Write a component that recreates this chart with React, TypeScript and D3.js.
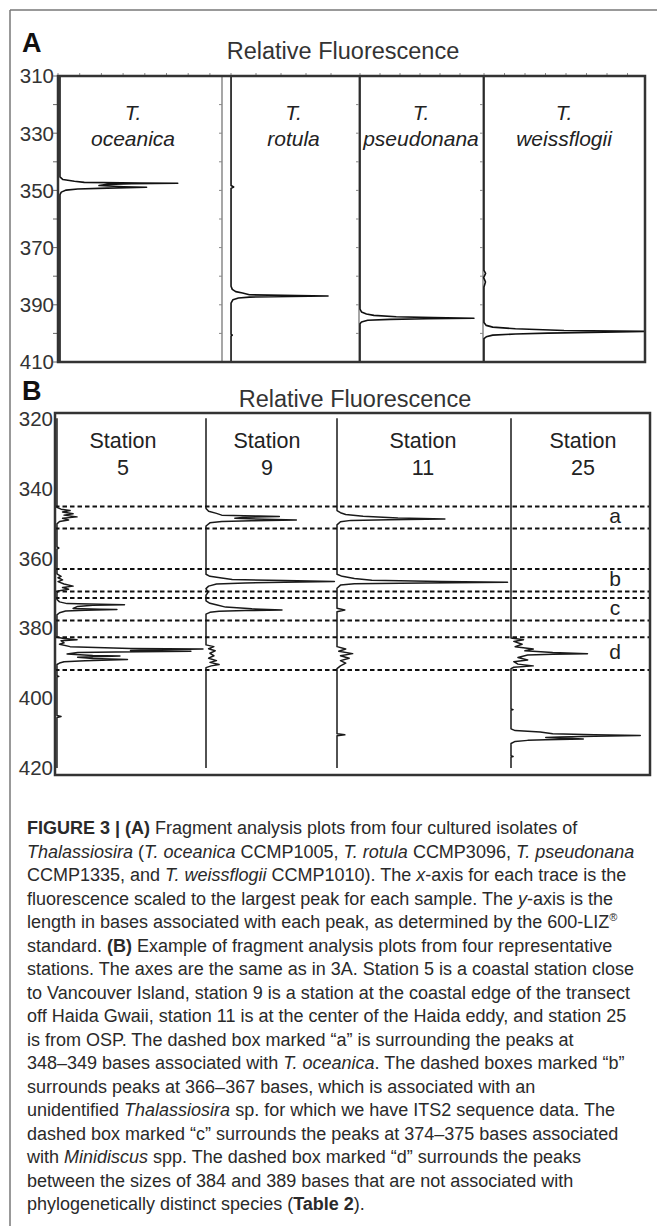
import * as d3 from 'd3';

// ---- data ----
const speciesA = ['oceanica', 'rotula', 'pseudonana', 'weissflogii'];
const stationsB = ['5', '9', '11', '25'];
const ticksA = [310, 330, 350, 370, 390, 410];
const ticksB = [320, 340, 360, 380, 400, 420];
const boxLabels = ['a', 'b', 'c', 'd'];
const boxBounds: [number, number][] = [
  [345.2, 351.5],
  [363.1, 369.5],
  [371.4, 377.8],
  [382.6, 392.0],
];

type Pt = [number, number]; // [bases, relative fluorescence]

// panel A traces
const trOceanica: Pt[] = [
  [310, 0.012], [345.3, 0.012], [346.2, 0.03], [346.8, 0.1], [347.2, 0.16], [347.4, 0.5], [347.5, 0.73],
  [347.7, 0.45], [347.9, 0.3], [348.3, 0.25], [348.7, 0.4], [348.9, 0.54], [349.2, 0.3], [349.5, 0.12],
  [349.9, 0.05], [350.6, 0.02], [351.5, 0.012], [410, 0.012],
];
const trRotula: Pt[] = [
  [310, 0.066], [348.3, 0.066], [348.8, 0.085], [349.3, 0.066], [383.5, 0.066], [384.6, 0.075],
  [385.4, 0.1], [385.9, 0.15], [386.5, 0.2], [386.8, 0.55], [386.9, 0.774], [387.1, 0.5], [387.3, 0.2],
  [387.6, 0.12], [388.2, 0.08], [389.4, 0.066], [400.3, 0.066], [400.6, 0.075], [400.9, 0.066], [410, 0.066],
];
const trPseudonana: Pt[] = [
  [310, 0.008], [391.5, 0.008], [392.5, 0.02], [393.2, 0.06], [393.7, 0.12], [394.2, 0.3], [394.5, 0.6],
  [394.7, 0.927], [394.9, 0.55], [395.1, 0.25], [395.4, 0.07], [396.0, 0.02], [396.6, 0.008], [410, 0.008],
];
const trWeissflogii: Pt[] = [
  [310, 0.006], [378, 0.006], [379, 0.016], [380.5, 0.004], [382, 0.015], [383.8, 0.006],
  [396.2, 0.006], [397.2, 0.02], [397.8, 0.06], [398.4, 0.2], [399.0, 0.5], [399.3, 1.0], [399.6, 0.75],
  [399.9, 0.4], [400.2, 0.2], [400.6, 0.06], [401.2, 0.02], [401.8, 0.006], [410, 0.006],
];

// panel B traces
const trStation5: Pt[] = [
  [320, 0.013], [345.5, 0.013], [346.0, 0.04], [346.4, 0.1], [346.8, 0.05], [347.3, 0.12],
  [347.7, 0.06], [348.2, 0.146], [348.6, 0.05], [349.1, 0.09], [349.5, 0.03], [350.2, 0.013],
  [356.8, 0.013], [357.1, 0.025], [357.4, 0.013],
  [364.5, 0.013], [365.2, 0.04], [365.6, 0.02], [366.2, 0.05], [366.7, 0.02], [367.4, 0.06],
  [368.0, 0.12], [368.4, 0.05], [368.9, 0.09], [369.4, 0.02], [370, 0.013],
  [371.8, 0.013], [372.5, 0.03], [373.0, 0.08], [373.2, 0.3], [373.3, 0.46], [373.5, 0.25], [373.8, 0.15],
  [374.4, 0.12], [374.6, 0.3], [374.7, 0.41], [374.9, 0.2], [375.1, 0.07], [375.6, 0.03], [376.2, 0.013],
  [382.6, 0.013], [383.0, 0.06], [383.3, 0.146], [383.6, 0.04], [384.2, 0.06], [384.6, 0.03],
  [385.3, 0.1], [385.8, 0.5], [386.0, 0.98], [386.2, 0.7], [386.4, 0.5], [386.6, 0.9], [386.8, 0.4],
  [387.0, 0.15], [387.4, 0.08], [387.8, 0.25], [388.0, 0.43], [388.3, 0.15], [388.7, 0.25],
  [389.0, 0.48], [389.3, 0.2], [389.6, 0.06], [390.0, 0.03], [390.4, 0.013],
  [393.6, 0.013], [393.8, 0.025], [394.0, 0.013],
  [405.0, 0.013], [405.3, 0.04], [405.6, 0.013], [420, 0.013],
];
const trStation9: Pt[] = [
  [320, 0], [345.8, 0], [346.6, 0.02], [347.2, 0.08], [347.7, 0.12], [347.95, 0.4], [348.1, 0.56],
  [348.3, 0.3], [348.6, 0.22], [348.9, 0.45], [349.1, 0.69], [349.3, 0.35], [349.5, 0.12],
  [349.9, 0.03], [350.8, 0],
  [364.6, 0], [365.2, 0.03], [365.7, 0.12], [366.1, 0.2], [366.4, 0.6], [366.7, 0.98], [366.9, 0.6],
  [367.1, 0.3], [367.4, 0.08], [368.0, 0.02], [368.7, 0], [369.8, 0.015], [370.6, 0],
  [372.2, 0], [372.9, 0.03], [373.4, 0.085], [374.0, 0.15], [374.5, 0.35], [374.8, 0.58], [375.0, 0.3],
  [375.2, 0.1], [375.5, 0.03], [376.0, 0],
  [384.8, 0], [385.3, 0.06], [385.9, 0.02], [386.5, 0.07], [387.2, 0.03], [387.9, 0.06],
  [388.6, 0.02], [389.3, 0.08], [389.8, 0.03], [390.4, 0.1], [390.8, 0.04], [391.3, 0], [420, 0],
];
const trStation11: Pt[] = [
  [320, 0], [346.4, 0], [347.0, 0.02], [347.5, 0.05], [348.0, 0.15], [348.5, 0.35], [348.8, 0.62],
  [349.0, 0.3], [349.2, 0.08], [349.6, 0.02], [350.5, 0],
  [364.6, 0], [365.2, 0.03], [365.8, 0.1], [366.3, 0.2], [366.7, 0.6], [366.9, 0.98], [367.1, 0.5],
  [367.3, 0.1], [367.7, 0.02], [368.6, 0],
  [374.3, 0], [374.8, 0.045], [375.3, 0],
  [385.3, 0], [386.0, 0.05], [386.6, 0.01], [387.3, 0.09], [387.9, 0.02], [388.6, 0.07],
  [389.3, 0.02], [390.0, 0.05], [390.8, 0.02], [391.6, 0],
  [410.2, 0], [410.5, 0.045], [410.8, 0], [420, 0],
];
const trStation25: Pt[] = [
  [320, 0], [382.8, 0], [383.3, 0.09], [383.8, 0.02], [384.6, 0.08], [385.3, 0.03], [386.0, 0.16],
  [386.5, 0.1], [387.0, 0.3], [387.3, 0.55], [387.5, 0.3], [387.7, 0.12], [388.4, 0.05], [389.1, 0.12],
  [389.6, 0.02], [390.3, 0.05], [390.8, 0.16], [391.2, 0.02], [391.6, 0],
  [403.1, 0], [403.3, 0.015], [403.5, 0],
  [408.8, 0], [409.3, 0.03], [409.7, 0.21], [410.2, 0.3], [410.5, 0.6], [410.7, 0.93], [410.9, 0.6],
  [411.1, 0.35], [411.3, 0.25], [411.5, 0.4], [411.7, 0.52], [411.9, 0.25], [412.1, 0.12],
  [412.4, 0.03], [413.0, 0],
  [416.5, 0], [416.7, 0.015], [416.9, 0], [420, 0],
];

const tracesA = [trOceanica, trRotula, trPseudonana, trWeissflogii];
const tracesB = [trStation5, trStation9, trStation11, trStation25];

const captionLines: [string, string][][] = [
  [['FIGURE 3 | (A)', 'b'], [' Fragment analysis plots from four cultured isolates of', 'n']],
  [['Thalassiosira', 'i'], [' (', 'n'], ['T. oceanica', 'i'], [' CCMP1005, ', 'n'], ['T. rotula', 'i'], [' CCMP3096, ', 'n'], ['T. pseudonana', 'i']],
  [['CCMP1335, and ', 'n'], ['T. weissflogii', 'i'], [' CCMP1010). The ', 'n'], ['x', 'i'], ['-axis for each trace is the', 'n']],
  [['fluorescence scaled to the largest peak for each sample. The ', 'n'], ['y', 'i'], ['-axis is the', 'n']],
  [['length in bases associated with each peak, as determined by the 600-LIZ', 'n'], ['®', 's']],
  [['standard. ', 'n'], ['(B)', 'b'], [' Example of fragment analysis plots from four representative', 'n']],
  [['stations. The axes are the same as in 3A. Station 5 is a coastal station close', 'n']],
  [['to Vancouver Island, station 9 is a station at the coastal edge of the transect', 'n']],
  [['off Haida Gwaii, station 11 is at the center of the Haida eddy, and station 25', 'n']],
  [['is from OSP. The dashed box marked “a” is surrounding the peaks at', 'n']],
  [['348–349 bases associated with ', 'n'], ['T. oceanica', 'i'], ['. The dashed boxes marked “b”', 'n']],
  [['surrounds peaks at 366–367 bases, which is associated with an', 'n']],
  [['unidentified ', 'n'], ['Thalassiosira', 'i'], [' sp. for which we have ITS2 sequence data. The', 'n']],
  [['dashed box marked “c” surrounds the peaks at 374–375 bases associated', 'n']],
  [['with ', 'n'], ['Minidiscus', 'i'], [' spp. The dashed box marked “d” surrounds the peaks', 'n']],
  [['between the sizes of 384 and 389 bases that are not associated with', 'n']],
  [['phylogenetically distinct species (', 'n'], ['Table 2', 'b'], [').', 'n']],
];

// ---- layout ----
const W = 657;
const H = 1226;
const FONT = '"Liberation Sans", Arial, Helvetica, sans-serif';

const A = { top: 76, bottom: 362, left: 58, right: 645 };
const edgesA = [58, 222, 359, 483, 645];
const tickStepA = [21.7, 25, 20, 20.5];
const tickStartA = [58, 231, 360, 484];

const B = { top: 413, bottom: 775, left: 55, right: 650 };
const edgesB = [55, 206, 337, 511, 650];

const yA = d3.scaleLinear().domain([310, 410]).range([A.top, A.bottom]);
const yB = d3.scaleLinear().domain([318.5, 422]).range([B.top, B.bottom]);

function tracePath(pts: Pt[], x: d3.ScaleLinear<number, number>, y: d3.ScaleLinear<number, number>) {
  return d3.line<Pt>().x((d) => x(d[1])).y((d) => y(d[0]))(pts) || '';
}

function PanelA() {
  const minor = d3.range(310, 411, 10);
  return (
    <g fontFamily={FONT}>
      <text x={22} y={52} fontSize={27} fontWeight="bold" fill="#111">A</text>
      <text x={343} y={59} fontSize={23.5} textAnchor="middle" fill="#333">Relative Fluorescence</text>
      {ticksA.map((t) => (
        <text key={t} x={54} y={yA(t)} dy="0.36em" fontSize={20.5} textAnchor="end" fill="#333">{t}</text>
      ))}
      {minor.map((t) => (
        <line key={t} x1={A.left - 5} x2={A.left} y1={yA(t)} y2={yA(t)} stroke="#666" strokeWidth={1} />
      ))}
      {speciesA.map((sp, i) => {
        const x0 = edgesA[i];
        const x1 = edgesA[i + 1];
        const xs = d3.scaleLinear().domain([0, 1]).range([x0, x1]);
        const cx = (x0 + x1) / 2 - (i === 0 ? 7 : i === 1 ? -3 : 0);
        const topTicks = d3.range(tickStartA[i] + tickStepA[i], x1 - 4, tickStepA[i]);
        return (
          <g key={sp}>
            {i > 0 && <line x1={x0} x2={x0} y1={A.top} y2={A.bottom} stroke="#777" strokeWidth={1.3} />}
            {i > 0 &&
              minor.map((t) => (
                <line key={t} x1={x0 - 3} x2={x0} y1={yA(t)} y2={yA(t)} stroke="#888" strokeWidth={1} />
              ))}
            {[tickStartA[i], ...topTicks].map((tx, k) => (
              <line key={k} x1={tx} x2={tx} y1={A.top - 3} y2={A.top} stroke="#888" strokeWidth={1} />
            ))}
            <path d={tracePath(tracesA[i], xs, yA)} fill="none" stroke="#111" strokeWidth={1.6} strokeLinejoin="round" />
            <text x={cx} y={120} fontSize={21} fontStyle="italic" textAnchor="middle" fill="#222">T.</text>
            <text x={cx} y={146} fontSize={21} fontStyle="italic" textAnchor="middle" fill="#222">{sp}</text>
          </g>
        );
      })}
      <rect x={A.left} y={A.top} width={A.right - A.left} height={A.bottom - A.top} fill="none" stroke="#333" strokeWidth={2.5} />
    </g>
  );
}

function PanelB() {
  const labelX = 615;
  return (
    <g fontFamily={FONT}>
      <text x={22} y={400} fontSize={27} fontWeight="bold" fill="#111">B</text>
      <text x={355} y={407} fontSize={23.5} textAnchor="middle" fill="#333">Relative Fluorescence</text>
      {ticksB.map((t) => (
        <text key={t} x={53} y={yB(t)} dy="0.36em" fontSize={20.5} textAnchor="end" fill="#333">{t}</text>
      ))}
      {stationsB.map((st, i) => {
        const x0 = edgesB[i];
        const x1 = edgesB[i + 1];
        const xs = d3.scaleLinear().domain([0, 1]).range([x0, x1]);
        const cx = i === 0 ? 123 : i === 1 ? 267 : i === 2 ? 423 : 583;
        return (
          <g key={st}>
            <path d={tracePath(tracesB[i], xs, yB)} fill="none" stroke="#1a1a1a" strokeWidth={1.5} strokeLinejoin="round" />
            <text x={cx} y={448} fontSize={21.5} textAnchor="middle" fill="#222">Station</text>
            <text x={cx} y={475} fontSize={21.5} textAnchor="middle" fill="#222">{st}</text>
          </g>
        );
      })}
      {boxBounds.map((bb, i) => (
        <g key={boxLabels[i]}>
          {bb.map((v, k) => (
            <line key={k} x1={B.left} x2={B.right} y1={yB(v)} y2={yB(v)} stroke="#111" strokeWidth={2} strokeDasharray="4.5 3" />
          ))}
          <text x={labelX} y={yB((bb[0] + bb[1]) / 2)} dy={5.5} fontSize={21} textAnchor="middle" fill="#222">
            {boxLabels[i]}
          </text>
        </g>
      ))}
      <rect x={B.left} y={B.top} width={B.right - B.left} height={B.bottom - B.top} fill="none" stroke="#333" strokeWidth={2.5} />
    </g>
  );
}

function Caption() {
  const x0 = 27;
  const y0 = 834;
  const lh = 23.5;
  return (
    <g fontFamily={FONT} fontSize={18} fill="#2a2a2a">
      {captionLines.map((segs, i) => (
        <text key={i} x={x0} y={y0 + i * lh} style={{ whiteSpace: 'pre' }}>
          {segs.map(([s, k], j) =>
            k === 's' ? (
              <tspan key={j} fontSize={11} dy={-7}>{s}</tspan>
            ) : (
              <tspan
                key={j}
                fontStyle={k === 'i' ? 'italic' : 'normal'}
                fontWeight={k === 'b' ? 'bold' : 'normal'}
              >
                {s}
              </tspan>
            )
          )}
        </text>
      ))}
    </g>
  );
}

export default function App() {
  return (
    <div style={{ position: 'absolute', left: 0, top: 0 }}>
      <svg width={W} height={H} viewBox={`0 0 ${W} ${H}`} style={{ display: 'block', background: '#fff' }}>
        <rect x={0} y={0} width={W} height={H} fill="#fff" />
        <line x1={10} x2={W} y1={10} y2={10} stroke="#777" strokeWidth={1.5} />
        <line x1={10} x2={10} y1={10} y2={H} stroke="#777" strokeWidth={1.5} />
        <PanelA />
        <PanelB />
        <Caption />
      </svg>
    </div>
  );
}
